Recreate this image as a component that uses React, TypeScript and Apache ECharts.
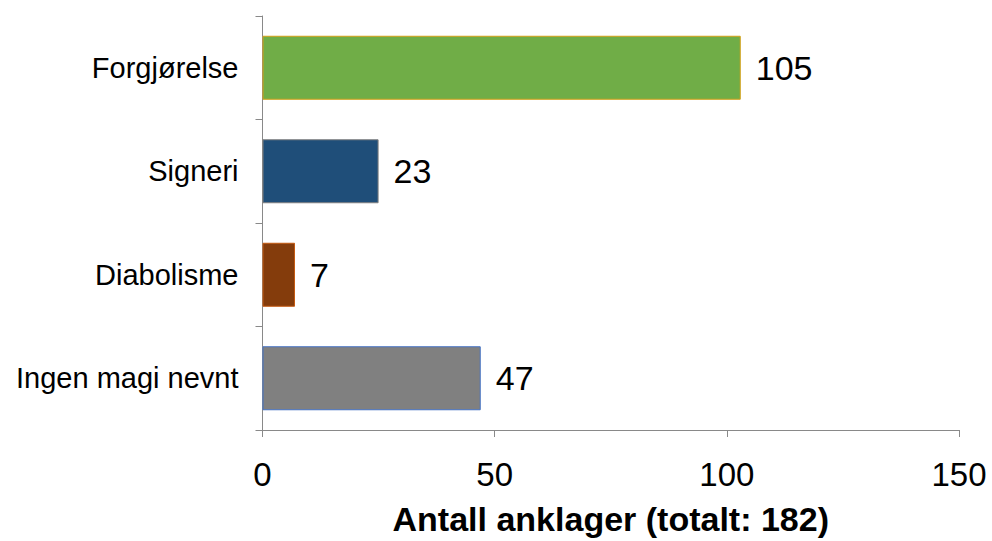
import React, { useEffect, useRef } from "react";
import * as echarts from "echarts";

// Categories listed bottom -> top
const categories = ["Ingen magi nevnt", "Diabolisme", "Signeri", "Forgjørelse"];
// Bar lengths as drawn in the picture
const barValues = [47, 7, 25, 103];
// Data label texts as printed in the picture
const labelTexts = ["47", "7", "23", "105"];
const fillColors = ["#808080", "#843C0C", "#1F4E79", "#70AD47"];
const borderColors = ["#4472C4", "#C55A11", "#7F7F7F", "#D4A017"];
const xTicks = [0, 50, 100, 150];
const axisTitle = "Antall anklager (totalt: 182)";

const FONT = "'Liberation Sans', Arial, Helvetica, sans-serif";

export default function App() {
  const ref = useRef<HTMLDivElement>(null);
  useEffect(() => {
    if (!ref.current) return;
    const chart = echarts.init(ref.current, undefined, { renderer: "svg" });
    const axisColor = "#898989";
    chart.setOption({
      animation: false,
      backgroundColor: "#ffffff",
      textStyle: { fontFamily: FONT },
      grid: { left: 262.5, right: 33, top: 16, bottom: 106, containLabel: false },
      xAxis: {
        type: "value",
        min: xTicks[0],
        max: xTicks[xTicks.length - 1],
        interval: xTicks[1] - xTicks[0],
        name: axisTitle,
        nameLocation: "middle",
        nameGap: 72,
        nameTextStyle: { fontFamily: FONT, fontSize: 34, fontWeight: "bold", color: "#000" },
        axisLine: { show: true, lineStyle: { color: axisColor, width: 1 } },
        axisTick: { show: true, length: 7, lineStyle: { color: axisColor } },
        splitLine: { show: false },
        axisLabel: { fontFamily: FONT, fontSize: 33, color: "#000", margin: 28 },
      },
      yAxis: {
        type: "category",
        data: categories,
        axisLine: { show: true, lineStyle: { color: axisColor, width: 1 } },
        axisTick: { show: true, length: 7, lineStyle: { color: axisColor } },
        splitLine: { show: false },
        axisLabel: { fontFamily: FONT, fontSize: 29, color: "#000", margin: 24 },
      },
      series: [
        {
          type: "bar",
          barWidth: 64,
          data: barValues.map((v, i) => ({
            value: v,
            itemStyle: { color: fillColors[i], borderColor: borderColors[i], borderWidth: 1 },
          })),
          label: {
            show: true,
            position: "right",
            distance: 15,
            fontFamily: FONT,
            fontSize: 34,
            color: "#000",
            formatter: (p: any) => labelTexts[p.dataIndex],
          },
        },
      ],
    });
    return () => chart.dispose();
  }, []);
  return <div ref={ref} style={{ width: 992, height: 541, position: "absolute", left: 0, top: 0 }} />;
}
